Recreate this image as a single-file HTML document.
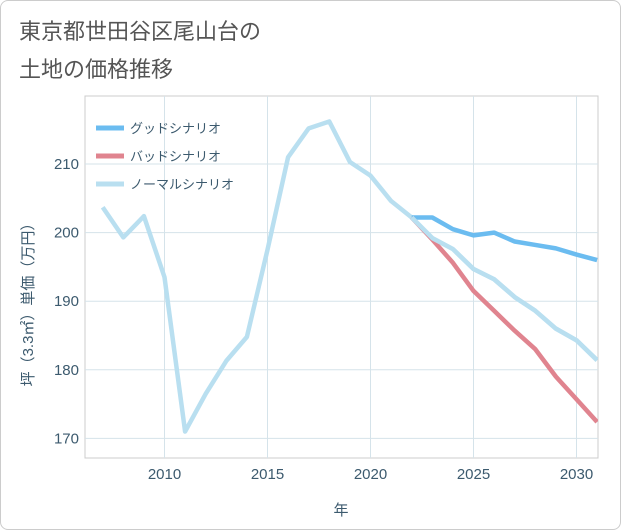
<!DOCTYPE html>
<html><head><meta charset="utf-8"><style>
body{margin:0;background:#fff;font-family:"Liberation Sans","Noto Sans CJK JP",sans-serif;}
#wrap{position:relative;width:619px;height:528px;border:1px solid #ccc;border-radius:8px;overflow:hidden;background:#fff;}
</style></head><body>
<div id="wrap">
<svg id="c" width="619" height="528"></svg>
</div>
<script>
const years=[2007,2008,2009,2010,2011,2012,2013,2014,2015,2016,2017,2018,2019,2020,2021,2022,2023,2024,2025,2026,2027,2028,2029,2030,2031];
const normalVals=[203.7,199.3,202.4,193.5,171,176.5,181.3,184.8,197.5,211,215.2,216.2,210.3,208.3,204.6,202.2,199.2,197.6,194.7,193.2,190.6,188.6,186,184.3,181.4];
const futureYears=[2022,2023,2024,2025,2026,2027,2028,2029,2030,2031];
const goodVals=[202.2,202.2,200.5,199.6,200,198.7,198.2,197.7,196.8,196];
const badVals=[202.2,199,195.6,191.5,188.6,185.7,183,179,175.7,172.4];
const xTicks=[2010,2015,2020,2025,2030];
const yTicks=[170,180,190,200,210];
const legendLabels=["グッドシナリオ","バッドシナリオ","ノーマルシナリオ"];
const colors=["#6bbcf0","#e0848f","#b9dff0"];
const L=84,R=597,T=95,B=457;
const x=y=>163.5+(y-2010)*20.6;
const yv=v=>163+(210-v)*6.86;
const s=document.getElementById('c');const NS='http://www.w3.org/2000/svg';
function mk(t,a,p){const e=document.createElementNS(NS,t);for(const k in a)e.setAttribute(k,a[k]);(p||s).appendChild(e);return e;}
let e;
e=mk('text',{x:18,y:38,'font-size':22,fill:'#555'});e.textContent='東京都世田谷区尾山台の';


e=mk('text',{x:18,y:76,'font-size':22,fill:'#555'});e.textContent='土地の価格推移';


e=mk('rect',{x:L,y:T,width:R-L,height:B-T,fill:'none',stroke:'#ccc'});


xTicks.forEach(t=>{
 e=mk('line',{x1:x(t),x2:x(t),y1:T,y2:B,stroke:'#d5e3ea'});
 
 
 e=mk('text',{x:x(t),y:478,'font-size':15,fill:'#3c5a6e','text-anchor':'middle'});e.textContent=t;
 
 
});
yTicks.forEach(t=>{
 e=mk('line',{x1:L,x2:R,y1:yv(t),y2:yv(t),stroke:'#d5e3ea'});
 
 
 e=mk('text',{x:78,y:yv(t)+5,'font-size':15,fill:'#3c5a6e','text-anchor':'end'});e.textContent=t;
 
 
});
e=mk('text',{x:340,y:514,'font-size':15,fill:'#3c5a6e','text-anchor':'middle'});e.textContent='年';


e=mk('text',{x:0,y:0,'font-size':15,fill:'#3c5a6e','text-anchor':'middle',transform:'translate(32,300) rotate(-90)'});e.textContent='坪（3.3㎡）単価（万円）';


mk('clipPath',{id:'cp'});mk('rect',{x:L,y:T,width:R-L,height:B-T},s.lastChild);
function line(xs,vs,c,name){const p=mk('polyline',{points:xs.map((yr,i)=>x(yr)+','+yv(vs[i])).join(' '),fill:'none',stroke:c,'stroke-width':4.5,'stroke-linejoin':'round','clip-path':'url(#cp)'});
 
 }
line(years,normalVals,colors[2],'normal-line');
line(futureYears,goodVals,colors[0],'good-line');
line(futureYears,badVals,colors[1],'bad-line');
line(years.slice(15),normalVals.slice(15),colors[2],'normal-line-front');
legendLabels.forEach((l,i)=>{
 const yy=127+i*28;
 e=mk('line',{x1:95,x2:123,y1:yy,y2:yy,stroke:colors[i],'stroke-width':5});
 
 
 e=mk('text',{x:129,y:yy+5,'font-size':13,fill:'#3c5a6e'});e.textContent=l;
 
 
});
</script>
</body></html>
